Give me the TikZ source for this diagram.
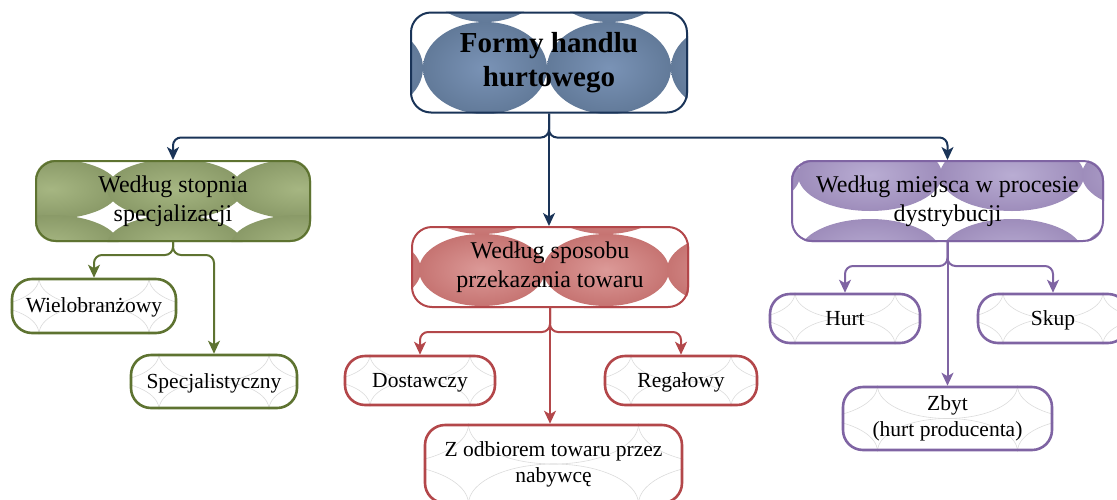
\documentclass[tikz,border=0pt]{standalone}
\usepackage{fontspec}
\setmainfont{Liberation Serif}
\usetikzlibrary{arrows.meta,backgrounds,calc}
\definecolor{navyc}{HTML}{1A3458}
\definecolor{topbase}{HTML}{627A99}
\definecolor{toplight}{HTML}{7A93B6}
\definecolor{greenc}{HTML}{5E7331}
\definecolor{greenbase}{HTML}{8A9A68}
\definecolor{greenlight}{HTML}{A6B682}
\definecolor{redc}{HTML}{B3474A}
\definecolor{redbase}{HTML}{C67472}
\definecolor{redlight}{HTML}{DC9A98}
\definecolor{purc}{HTML}{7F64A3}
\definecolor{purbase}{HTML}{9E8DBB}
\definecolor{purlight}{HTML}{B9ADD3}
\newcommand\ellgrid[9]{%
  \begin{scope}
    \clip[rounded corners=20pt] (#1.north west) rectangle (#1.south east);
    \foreach \i in {-3,...,3}{\foreach \j in {-2,...,2}{%
      \shade[inner color=#3, outer color=#2] ({#4+\i*#6},{#5+\j*#7}) ellipse [x radius=#8pt, y radius=#9pt];
    }}
  \end{scope}}
\newcommand\linegrid[5]{%
  \begin{scope}
    \clip[rounded corners=20pt] (#1.north west) rectangle (#1.south east);
    \foreach \i in {-3,...,3}{\foreach \j in {-2,...,2}{%
      \draw[black!14, line width=0.6pt] ($(#1.center)+({\i*#2},{\j*#3-#3/2})$) ellipse [x radius=#4pt, y radius=#5pt];
    }}
  \end{scope}}
\begin{document}
\begin{tikzpicture}[x=1pt,y=-1pt,
  lvone/.style={draw=navyc, line width=2pt, rounded corners=20pt, minimum width=276pt, minimum height=100pt, inner sep=0pt, align=center, font=\fontsize{29}{34}\selectfont\bfseries},
  lvtwo/.style={line width=2pt, rounded corners=20pt, minimum height=80pt, inner sep=0pt, align=center, font=\fontsize{24}{29}\selectfont},
  lvthree/.style={line width=2.6pt, rounded corners=20pt, inner sep=0pt, align=center, font=\fontsize{21.5}{26}\selectfont},
  oneline/.style={text height=13.5pt, text depth=0pt},
  conn/.style={line width=2pt, rounded corners=8pt, -{Stealth[length=13pt,width=12pt,inset=3.5pt]}}]
\useasboundingbox (0,0) rectangle (1117,499);

% level 1
\node[lvone] (top) at (549,62.5) {Formy handlu\\hurtowego};
% level 2
\node[lvtwo, draw=greenc, minimum width=274pt] (green) at (173,201) {Według stopnia\\specjalizacji};
\node[lvtwo, draw=redc, minimum width=276pt] (red) at (550,267) {Według sposobu\\przekazania towaru};
\node[lvtwo, draw=purc, minimum width=311pt] (pur) at (947.5,201) {Według miejsca w procesie\\dystrybucji};
% level 3
\node[lvthree, oneline, draw=greenc, minimum width=164pt, minimum height=54pt] (wielo) at (94,306) {Wielobranżowy};
\node[lvthree, oneline, draw=greenc, minimum width=166pt, minimum height=53pt] (spec) at (214,381.5) {Specjalistyczny};
\node[lvthree, oneline, draw=redc, minimum width=150pt, minimum height=49pt] (dost) at (420,380.5) {Dostawczy};
\node[lvthree, oneline, draw=redc, minimum width=152pt, minimum height=49pt] (reg) at (681,380.5) {Regałowy};
\node[lvthree, draw=redc, minimum width=257pt, minimum height=78pt] (zodb) at (553.5,464) {Z odbiorem towaru przez\\nabywcę};
\node[lvthree, oneline, draw=purc, minimum width=150pt, minimum height=49pt] (hurt) at (845,318.5) {Hurt};
\node[lvthree, oneline, draw=purc, minimum width=150pt, minimum height=49pt] (skup) at (1053,318.5) {Skup};
\node[lvthree, draw=purc, minimum width=209pt, minimum height=63pt] (zbyt) at (947.5,418.5) {Zbyt\\(hurt producenta)};

\begin{pgfonlayer}{background}
  \ellgrid{top}{topbase}{toplight}{485}{68}{124}{92}{62}{46}
  \ellgrid{green}{greenbase}{greenlight}{175}{189}{124}{56}{68}{30}
  \ellgrid{red}{redbase}{redlight}{482}{270}{124}{72}{63}{36}
  \ellgrid{pur}{purbase}{purlight}{870}{175}{142}{80}{72}{36}
  \linegrid{wielo}{110}{56}{55}{28}
  \linegrid{spec}{110}{56}{55}{28}
  \linegrid{dost}{100}{52}{50}{26}
  \linegrid{reg}{100}{52}{50}{26}
  \linegrid{zodb}{170}{80}{85}{40}
  \linegrid{hurt}{100}{52}{50}{26}
  \linegrid{skup}{100}{52}{50}{26}
  \linegrid{zbyt}{140}{66}{70}{33}
\end{pgfonlayer}

% connectors level 1
\draw[conn, navyc] (top.south) -- ++(0,24) -| (green.north);
\draw[conn, navyc] (top.south) -- ++(0,24) -| (pur.north);
\draw[conn, navyc] (top.south) -- (top.south |- red.north);
% green
\draw[conn, greenc] (green.south) -- ++(0,13) -| (wielo.north);
\draw[conn, greenc] (green.south) -- ++(0,13) -| (spec.north);
% red
\draw[conn, redc] (red.south) -- ++(0,24) -| (dost.north);
\draw[conn, redc] (red.south) -- ++(0,24) -| (reg.north);
\draw[conn, redc] (red.south) -- (red.south |- zodb.north);
% purple
\draw[conn, purc] (pur.south) -- ++(0,24) -| (hurt.north);
\draw[conn, purc] (pur.south) -- ++(0,24) -| (skup.north);
\draw[conn, purc] (pur.south) -- (zbyt.north);
\end{tikzpicture}
\end{document}
